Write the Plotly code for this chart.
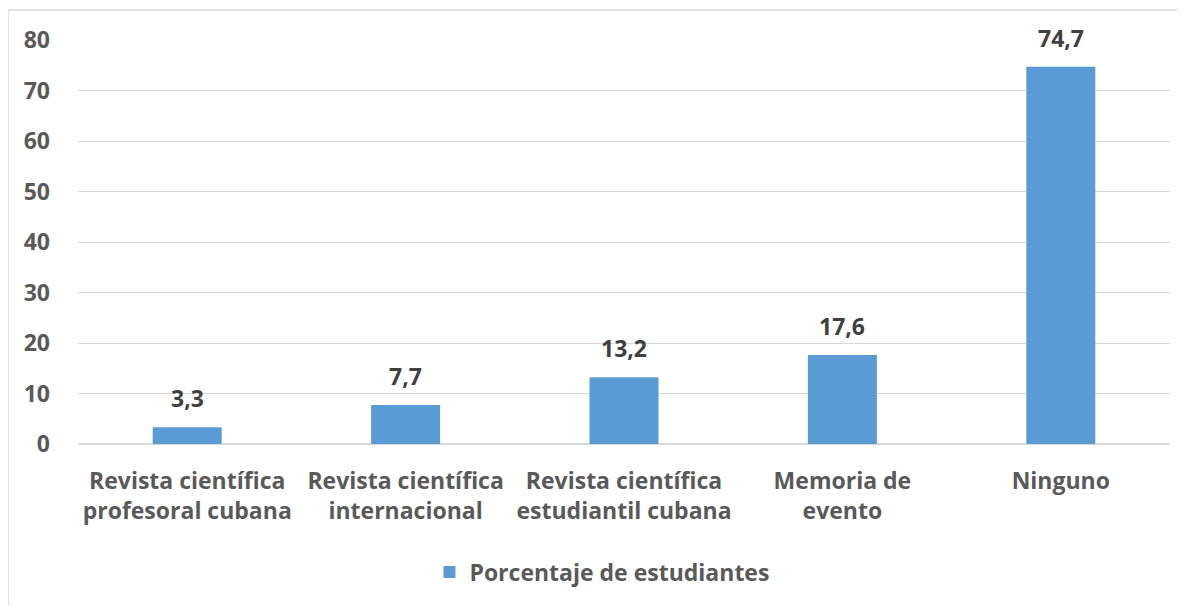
import plotly.graph_objects as go

categories = ["Revista científica<br>profesoral cubana", "Revista científica<br>internacional",
              "Revista científica<br>estudiantil cubana", "Memoria de<br>evento", "Ninguno"]
values = [3.3, 7.7, 13.2, 17.6, 74.7]
value_labels = ["3,3", "7,7", "13,2", "17,6", "74,7"]
series_name = "Porcentaje de estudiantes"
y_ticks = [0, 10, 20, 30, 40, 50, 60, 70, 80]

FONT = "Open Sans"
BAR = "#5B9BD5"
GRID = "#D9D9D9"
TXT = "#595959"

fig = go.Figure()
fig.add_trace(go.Bar(x=categories, y=values, name=series_name, marker_color=BAR,
                     marker_line_width=0, width=0.316, showlegend=True))

for c, v, t in zip(categories, values, value_labels):
    fig.add_annotation(x=c, y=v, text=t, showarrow=False, yanchor="bottom", yshift=11,
                       font=dict(family=FONT, size=23, color="#404040", weight="bold"))

fig.add_shape(type="rect", xref="paper", yref="paper", x0=-0.0641, x1=1.05, y0=-0.5, y1=1.0743,
              line=dict(color=GRID, width=1.5), fillcolor="rgba(0,0,0,0)", layer="below")

fig.update_layout(
    width=1185, height=606,
    margin=dict(l=70, r=23, t=32, b=170, autoexpand=False),
    paper_bgcolor="white", plot_bgcolor="white",
    bargap=0.684,
    showlegend=True,
    legend=dict(orientation="h", x=0.4798, xanchor="center", y=-0.317, yanchor="middle",
                itemwidth=30,
                font=dict(family=FONT, size=23, color=TXT, weight="bold")),
    xaxis=dict(tickfont=dict(family=FONT, size=23, color=TXT, weight="bold"),
               showline=False, ticks="", showgrid=False, automargin=False,
               ticklabelstandoff=21),
    yaxis=dict(range=[0, 80], tickvals=y_ticks, showgrid=True, gridcolor=GRID, gridwidth=1,
               zeroline=True, zerolinecolor=GRID, zerolinewidth=1.5,
               ticks="", ticklabelstandoff=27, automargin=False,
               tickfont=dict(family=FONT, size=23, color=TXT, weight="bold")),
)

fig.write_html("out.html")
